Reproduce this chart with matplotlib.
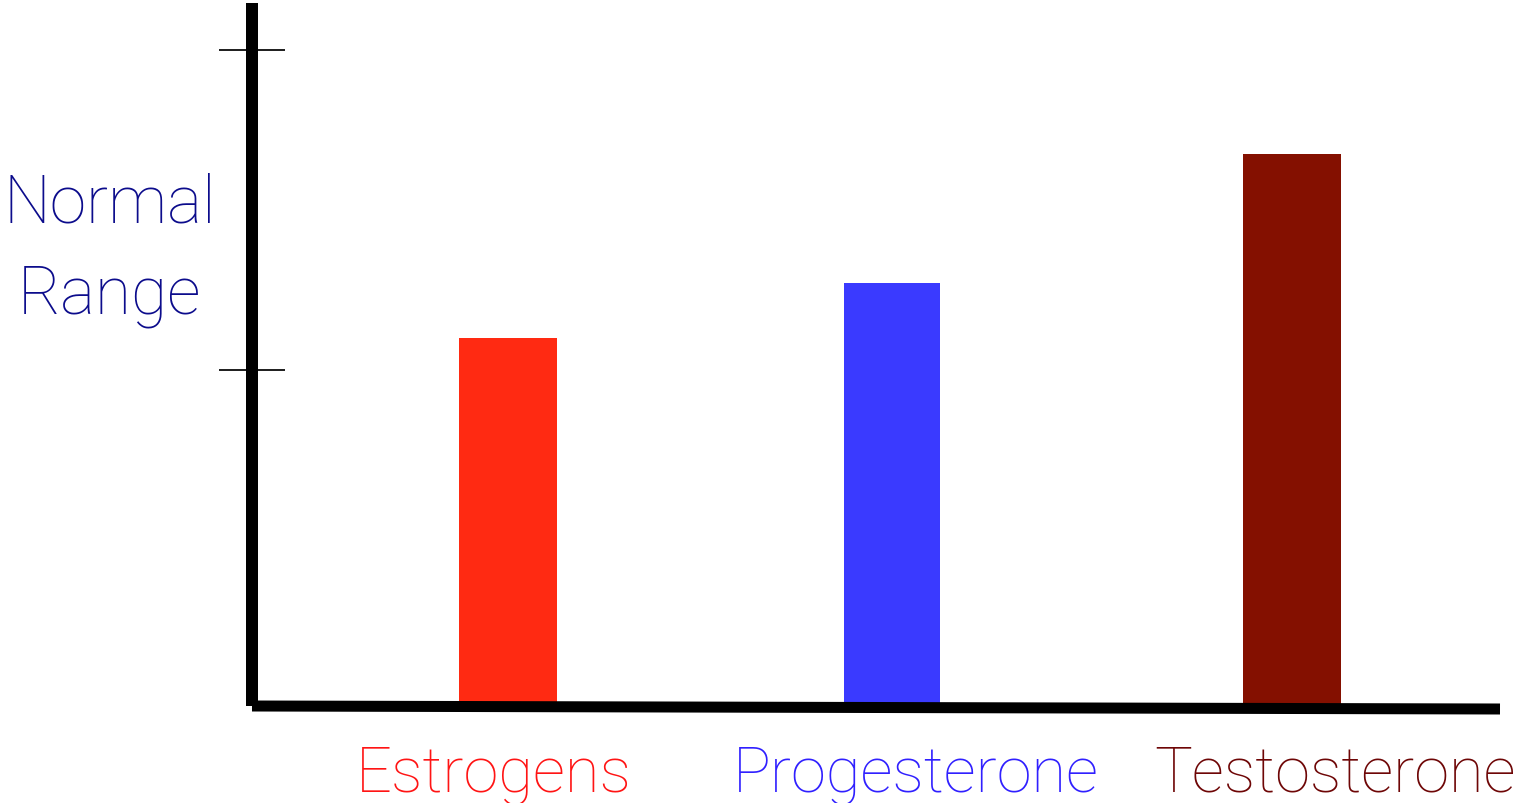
import matplotlib
matplotlib.use('Agg')
import matplotlib.pyplot as plt

# datos del grafico
hormones = ['Estrogens', 'Progesterone', 'Testosterone']
levels = [368, 423, 552]
range_ticks = [336, 656]
axis_label = ['Normal', 'Range']

bar_colors = ['#ff2a12', '#3a3aff', '#841000']
label_colors = ['#ff1414', '#3020ff', '#6e0606']
bar_x = [508, 892, 1292]
bar_w = [98, 96, 98]
label_x = [494, 916, 1335]

W, H = 1522, 804
fig = plt.figure(figsize=(W / 100, H / 100), dpi=100)
ax = fig.add_axes([0, 0, 1, 1])
ax.set_xlim(0, W)
ax.set_ylim(-97.5, 706.5)
ax.axis('off')

# barras
ax.bar(bar_x, levels, width=bar_w, color=bar_colors, zorder=1)

# ejes dibujados a mano
ax.plot([252, 252], [0, 703], color='black', lw=12 * 0.72,
        solid_capstyle='butt', zorder=3)
ax.plot([252, 1500], [-0.5, -3.5], color='black', lw=11 * 0.72,
        solid_capstyle='butt', zorder=3)

# marcas del rango normal
for t in range_ticks:
    ax.plot([220, 284], [t, t], color='#222222', lw=2 * 0.72, zorder=2)

font = dict(family=['Roboto', 'DejaVu Sans'], weight='light')

ax.text(110, 484, axis_label[0], color='#0c0c8c', fontsize=47.5,
        ha='center', va='baseline', **font)
ax.text(110, 393, axis_label[1], color='#0c0c8c', fontsize=47.5,
        ha='center', va='baseline', **font)

for name, x, c in zip(hormones, label_x, label_colors):
    ax.text(x, -85, name, color=c, fontsize=45.5, ha='center',
            va='baseline', **font)

fig.savefig('out.png', dpi=100)
